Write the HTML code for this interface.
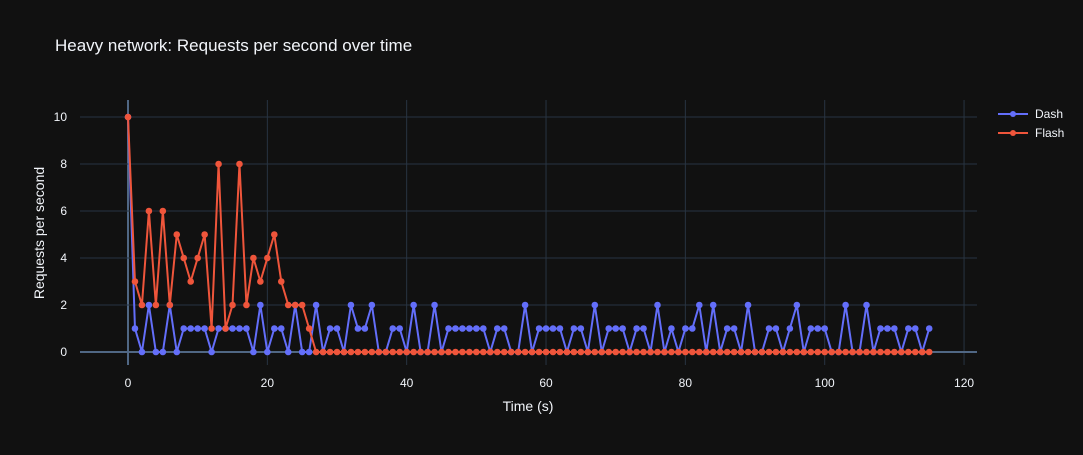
<!DOCTYPE html>
<html><head><meta charset="utf-8"><style>
body{margin:0;background:#111111;}
svg text{font-family:"Liberation Sans",Arial,sans-serif;fill:#f2f5fa;}
</style></head><body>
<svg width="1083" height="450" xmlns="http://www.w3.org/2000/svg">
<rect width="1083" height="450" fill="#111111"/>
<text x="55" y="51" font-size="17">Heavy network: Requests per second over time</text>
<g id="grid"></g>
<g id="ticks"></g>
<g id="series"></g>
<text x="528" y="411" font-size="14" text-anchor="middle">Time (s)</text>
<text x="44" y="233" font-size="14" text-anchor="middle" transform="rotate(-90 44 233)">Requests per second</text>
<g>
<g>
<line x1="998" y1="114" x2="1028" y2="114" stroke="#636efa" stroke-width="2"/><circle cx="1013" cy="114" r="3" fill="#636efa"/>
<text x="1035" y="118" font-size="12">Dash</text></g>
<g>
<line x1="998" y1="133" x2="1028" y2="133" stroke="#ef553b" stroke-width="2"/><circle cx="1013" cy="133" r="3" fill="#ef553b"/>
<text x="1035" y="137" font-size="12">Flash</text></g>
</g>
</svg>
<script>
const xTicks=[0,20,40,60,80,100,120];
const yTicks=[0,2,4,6,8,10];
const dash=[10,1,0,2,0,0,2,0,1,1,1,1,0,1,1,1,1,1,0,2,0,1,1,0,2,0,0,2,0,1,1,0,2,1,1,2,0,0,1,1,0,2,0,0,2,0,1,1,1,1,1,1,0,1,1,0,0,2,0,1,1,1,1,0,1,1,0,2,0,1,1,1,0,1,1,0,2,0,1,0,1,1,2,0,2,0,1,1,0,2,0,0,1,1,0,1,2,0,1,1,1,0,0,2,0,0,2,0,1,1,1,0,1,1,0,1];
const flash=[10,3,2,6,2,6,2,5,4,3,4,5,1,8,1,2,8,2,4,3,4,5,3,2,2,2,1,0,0,0,0,0,0,0,0,0,0,0,0,0,0,0,0,0,0,0,0,0,0,0,0,0,0,0,0,0,0,0,0,0,0,0,0,0,0,0,0,0,0,0,0,0,0,0,0,0,0,0,0,0,0,0,0,0,0,0,0,0,0,0,0,0,0,0,0,0,0,0,0,0,0,0,0,0,0,0,0,0,0,0,0,0,0,0,0,0];
const NS="http://www.w3.org/2000/svg";
const L=80,R=977,T=100,B=365;
function X(v){return 128+v*6.967;}
function Y(v){return 352-v*23.5;}
function mk(t,a,p){const e=document.createElementNS(NS,t);for(const k in a)e.setAttribute(k,a[k]);p.appendChild(e);return e;}
const grid=document.getElementById('grid'),ticks=document.getElementById('ticks'),series=document.getElementById('series');
xTicks.forEach(v=>{
 const l=mk('line',{x1:X(v),x2:X(v),y1:T,y2:B,stroke:v===0?'#506784':'#283442','stroke-width':v===0?2:1},grid);
 
 
 const t=mk('text',{x:X(v),y:387,'font-size':12,'text-anchor':'middle'},ticks);t.textContent=v;
 
 
});
yTicks.forEach(v=>{
 const l=mk('line',{x1:L,x2:R,y1:Y(v),y2:Y(v),stroke:v===0?'#506784':'#283442','stroke-width':v===0?2:1},grid);
 
 
 const t=mk('text',{x:67,y:Y(v)+4,'font-size':12,'text-anchor':'end'},ticks);t.textContent=v;
 
 
});
function draw(data,color,name){
 const g=mk('g',{},series);
 
 
 const pl=mk('polyline',{points:data.map((v,i)=>X(i)+','+Y(v)).join(' '),fill:'none',stroke:color,'stroke-width':2,'stroke-linejoin':'round'},g);
 
 
 data.forEach((v,i)=>{const c=mk('circle',{cx:X(i),cy:Y(v),r:3.3,fill:color},g);
  
  });
}
draw(dash,'#636efa','dash');
draw(flash,'#ef553b','flash');
</script>
</body></html>
